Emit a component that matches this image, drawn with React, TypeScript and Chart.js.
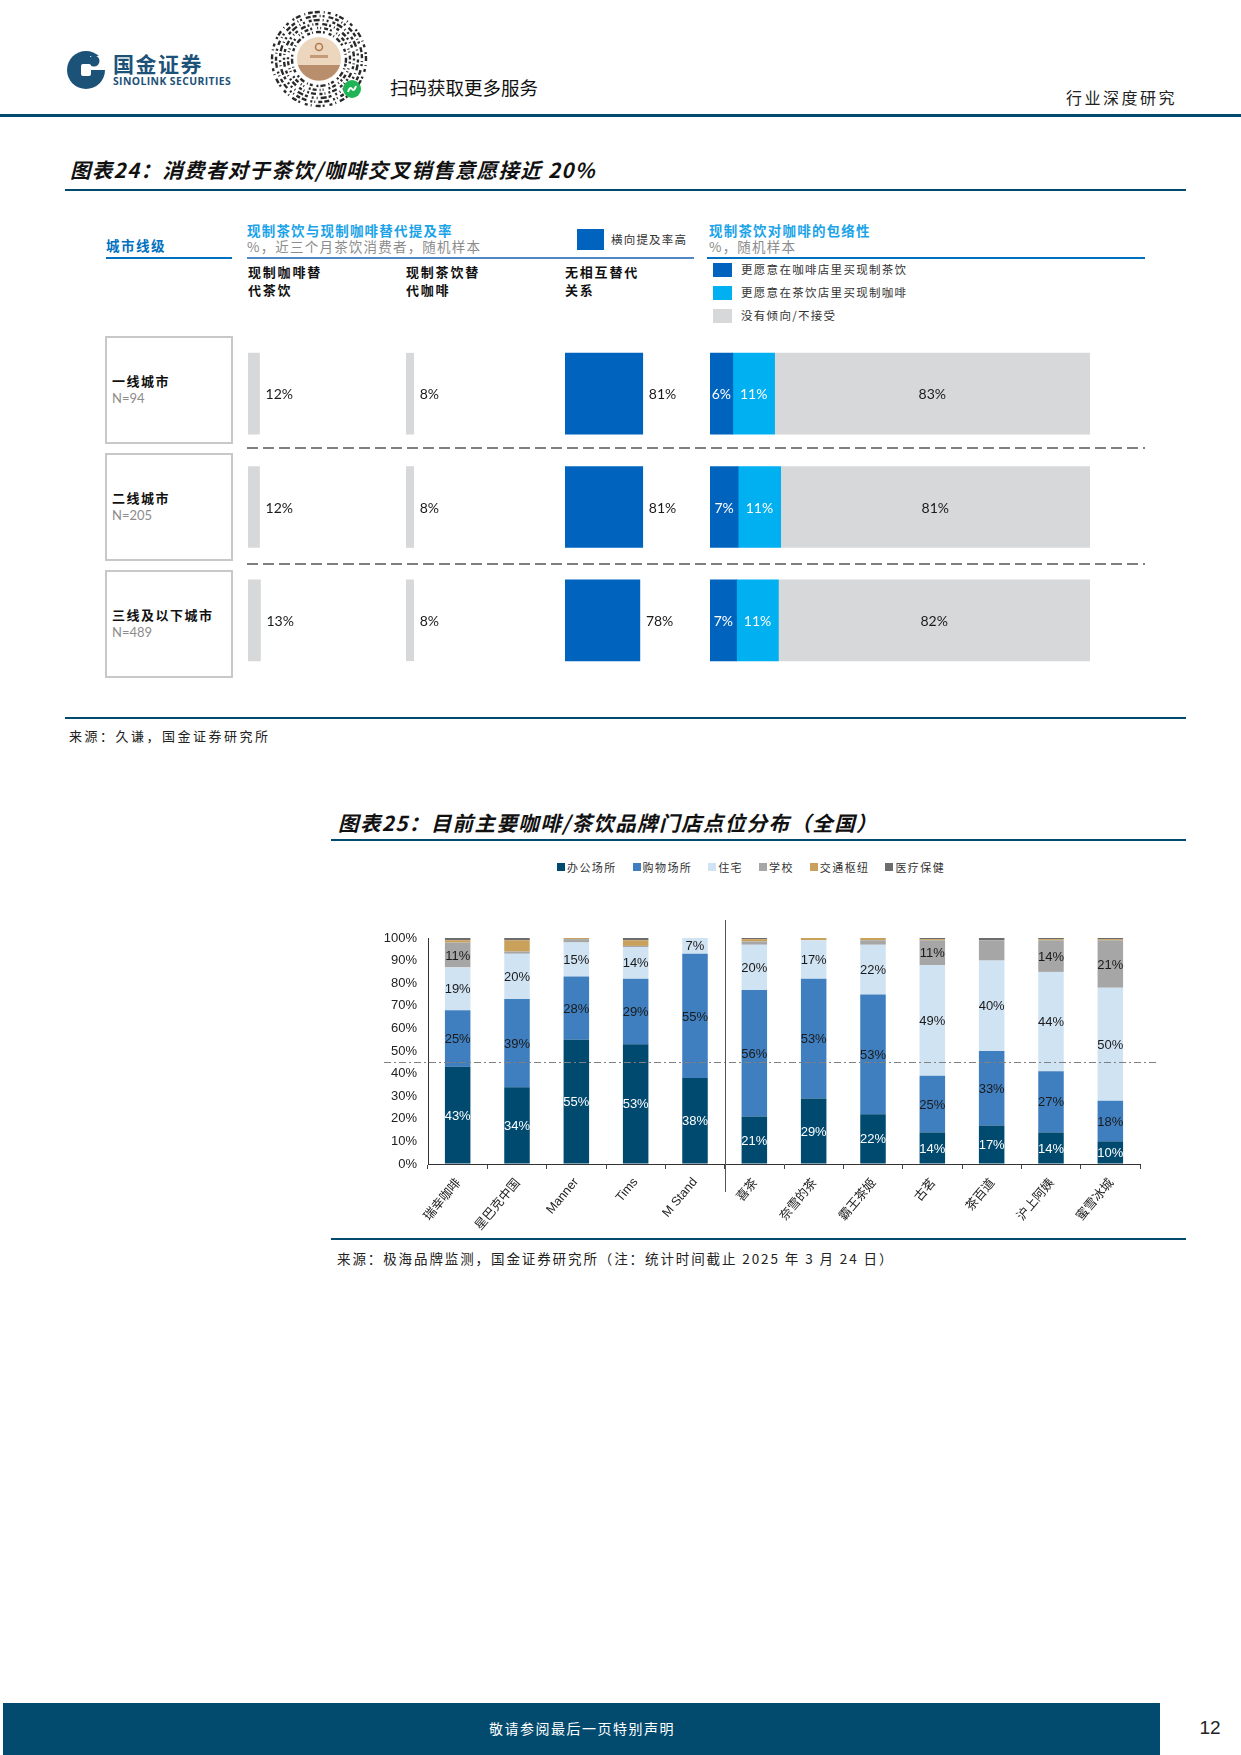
import React, { useEffect, useRef } from "react";
import { Chart, registerables } from "chart.js";

Chart.register(...registerables);

const CJK = '"Noto Sans CJK SC", "Noto Sans", sans-serif';
const LATO = 'Lato, "Noto Sans", sans-serif';
const ARIAL = '"Liberation Sans", Arial, sans-serif';
const NAVY = "#024a6e";

// ---------------- Figure 24 data ----------------
const cityTiers = ["一线城市", "二线城市", "三线及以下城市"];
const sampleSizes = ["N=94", "N=205", "N=489"];
const substitutionHeaders = [
  ["现制咖啡替", "代茶饮"],
  ["现制茶饮替", "代咖啡"],
  ["无相互替代", "关系"],
];
const coffeeReplacesTea = [12, 12, 13];
const teaReplacesCoffee = [8, 8, 8];
const noSubstitution = [81, 81, 78];
const inclusivityLegend = ["更愿意在咖啡店里买现制茶饮", "更愿意在茶饮店里买现制咖啡", "没有倾向/不接受"];
const teaAtCoffeeShop = [6, 7.4, 7];
const coffeeAtTeaShop = [11, 11.2, 11];
const noPreference = [83, 81.4, 82];

// ---------------- Figure 25 data ----------------
const brands = ["瑞幸咖啡", "星巴克中国", "Manner", "Tims", "M Stand", "喜茶", "奈雪的茶", "霸王茶姬", "古茗", "茶百道", "沪上阿姨", "蜜雪冰城"];
const locationTypes = ["办公场所", "购物场所", "住宅", "学校", "交通枢纽", "医疗保健"];
const officeShare = [43, 34, 55, 53, 38, 21, 29, 22, 14, 17, 14, 10];
const shoppingShare = [25, 39, 28, 29, 55, 56, 53, 53, 25, 33, 27, 18];
const residentialShare = [19, 20, 15, 14, 7, 20, 17, 22, 49, 40, 44, 50];
const schoolShare = [11, 1, 1.5, 0.5, 0, 1.5, 0, 2, 11, 9, 14, 21];
const transportShare = [1, 5, 0.5, 2.5, 0, 1, 1, 1, 0.5, 0, 0.5, 0.5];
const medicalShare = [1, 1, 0, 1, 0, 0.5, 0, 0, 0.5, 1, 0.5, 0.5];
const referenceShare = 45;
const teaGroupStartIndex = 5;
const yTickStep = 10;

// ---------------- styles ----------------
const DARK_BLUE = "#0063be";
const CYAN = "#00b0f0";
const LIGHT_GRAY = "#d7d8da";
const locationColors = ["#00496f", "#3f7fbf", "#d0e3f3", "#a6a6a6", "#c9a15b", "#6d6d6d"];
const labelThreshold = [5, 5, 5, 10, 1000, 1000];

const COL_W = 140;
const PX_PER_PCT = 0.96;
const ROWS_TOP = 337;
const ROWS_H = 340;

type TxtProps = {
  x: number; y: number; size: number; color?: string; weight?: number; family?: string;
  italic?: boolean; spacing?: number; children: React.ReactNode; center?: boolean;
};
const Txt = ({ x, y, size, color = "#222", weight = 400, family = CJK, italic = false, spacing = 0, children, center = false }: TxtProps) => (
  <div
    style={{
      position: "absolute", left: x, top: y - size * 0.6, fontSize: size, lineHeight: `${size * 1.2}px`,
      color, fontWeight: weight, fontFamily: family, fontStyle: italic ? "italic" : "normal",
      letterSpacing: spacing, whiteSpace: "nowrap", transform: center ? "translateX(-50%)" : undefined,
    }}
  >
    {children}
  </div>
);

const Rect = ({ x, y, w, h, color, style }: { x: number; y: number; w: number; h: number; color?: string; style?: React.CSSProperties }) => (
  <div style={{ position: "absolute", left: x, top: y, width: w, height: h, background: color, boxSizing: "border-box", ...style }} />
);

function ChartCanvas({ left, top, width, height, make }: { left: number; top: number; width: number; height: number; make: () => any }) {
  const ref = useRef<HTMLCanvasElement>(null);
  useEffect(() => {
    const chart = new Chart(ref.current as HTMLCanvasElement, make());
    return () => chart.destroy();
  }, []);
  return <canvas ref={ref} width={width} height={height} style={{ position: "absolute", left, top, width, height }} />;
}

// label after bar end
const endLabelPlugin = {
  id: "endLabel",
  afterDatasetsDraw(chart: any) {
    const ctx = chart.ctx;
    const meta = chart.getDatasetMeta(0);
    ctx.save();
    ctx.font = `14px ${LATO}`;
    ctx.fillStyle = "#1a1a1a";
    ctx.textBaseline = "middle";
    meta.data.forEach((bar: any, i: number) => {
      const p = bar.getProps(["x", "y"], true);
      ctx.fillText(`${Math.round(chart.data.datasets[0].data[i])}%`, p.x + 6, p.y + 1);
    });
    ctx.restore();
  },
};

const stackLabelPlugin = {
  id: "stackLabel",
  afterDatasetsDraw(chart: any) {
    const ctx = chart.ctx;
    ctx.save();
    ctx.font = `14px ${LATO}`;
    ctx.textAlign = "center";
    ctx.textBaseline = "middle";
    chart.data.datasets.forEach((ds: any, di: number) => {
      chart.getDatasetMeta(di).data.forEach((bar: any, i: number) => {
        const p = bar.getProps(["x", "y", "base"], true);
        ctx.fillStyle = di < 2 ? "#ffffff" : "#1a1a1a";
        ctx.fillText(`${Math.round(ds.data[i])}%`, (p.x + p.base) / 2, p.y + 1);
      });
    });
    ctx.restore();
  },
};

const columnConfig = (values: number[], color: string) => () => ({
  type: "bar",
  data: { labels: cityTiers, datasets: [{ data: values, backgroundColor: color, barThickness: 81, borderWidth: 0 }] },
  options: {
    indexAxis: "y", responsive: false, animation: false, events: [],
    layout: { padding: 0 },
    plugins: { legend: { display: false }, tooltip: { enabled: false } },
    scales: { x: { display: false, min: 0, max: COL_W / PX_PER_PCT }, y: { display: false } },
  },
  plugins: [endLabelPlugin],
});

const inclusivityConfig = () => ({
  type: "bar",
  data: {
    labels: cityTiers,
    datasets: [teaAtCoffeeShop, coffeeAtTeaShop, noPreference].map((d, i) => ({
      label: inclusivityLegend[i], data: d, backgroundColor: [DARK_BLUE, CYAN, LIGHT_GRAY][i], barThickness: 81, borderWidth: 0,
    })),
  },
  options: {
    indexAxis: "y", responsive: false, animation: false, events: [],
    layout: { padding: 0 },
    plugins: { legend: { display: false }, tooltip: { enabled: false } },
    scales: { x: { display: false, stacked: true, min: 0, max: 100 }, y: { display: false, stacked: true } },
  },
  plugins: [stackLabelPlugin],
});

const fig25Plugin = {
  id: "fig25",
  afterDatasetsDraw(chart: any) {
    const { ctx, chartArea, scales } = chart;
    ctx.save();
    // reference dash-dot line
    const yRef = scales.y.getPixelForValue(referenceShare);
    ctx.strokeStyle = "#808080";
    ctx.lineWidth = 1;
    ctx.setLineDash([7, 3, 2, 3]);
    ctx.beginPath();
    ctx.moveTo(chartArea.left - 44, Math.round(yRef) + 0.5);
    ctx.lineTo(chartArea.right + 17, Math.round(yRef) + 0.5);
    ctx.stroke();
    // group separator
    ctx.setLineDash([]);
    const xs = Math.round((scales.x.getPixelForValue(teaGroupStartIndex - 1) + scales.x.getPixelForValue(teaGroupStartIndex)) / 2) + 0.5;
    ctx.strokeStyle = "#555";
    ctx.beginPath();
    ctx.moveTo(xs, chartArea.top - 18);
    ctx.lineTo(xs, chartArea.bottom + 28);
    ctx.stroke();
    // value labels
    ctx.font = `13px ${ARIAL}`;
    ctx.textAlign = "center";
    ctx.textBaseline = "middle";
    chart.data.datasets.forEach((ds: any, di: number) => {
      chart.getDatasetMeta(di).data.forEach((bar: any, i: number) => {
        const v = ds.data[i];
        if (v < labelThreshold[di]) return;
        const p = bar.getProps(["x", "y", "base"], true);
        ctx.fillStyle = di === 0 ? "#ffffff" : "#1a1a1a";
        ctx.fillText(`${Math.round(v)}%`, p.x, (p.y + p.base) / 2 + 1);
      });
    });
    ctx.restore();
  },
};

const fig25Config = () => {
  const series = [officeShare, shoppingShare, residentialShare, schoolShare, transportShare, medicalShare];
  return {
    type: "bar",
    data: {
      labels: brands,
      datasets: series.map((data, i) => ({
        label: locationTypes[i], data, backgroundColor: locationColors[i],
        barPercentage: 0.43, categoryPercentage: 1, borderWidth: 0,
      })),
    },
    options: {
      responsive: false, animation: false, events: [],
      layout: { padding: { top: 23, right: 30, left: 0, bottom: 0 } },
      plugins: { legend: { display: false }, tooltip: { enabled: false } },
      scales: {
        x: {
          stacked: true,
          afterFit: (s: any) => { s.height = 71; },
          grid: { drawOnChartArea: false, drawTicks: true, tickLength: 5, color: "#444" },
          border: { color: "#333" },
          ticks: {
            autoSkip: false, maxRotation: 50, minRotation: 50, padding: 6, color: "#222",
            font: (c: any) => ({ family: /[A-Za-z]/.test(brands[c.index] || "") ? ARIAL : CJK, size: 12.5 }),
          },
        },
        y: {
          stacked: true, min: 0, max: 100,
          afterFit: (s: any) => { s.width = 88; },
          grid: { drawOnChartArea: false, drawTicks: false },
          border: { color: "#333" },
          ticks: { stepSize: yTickStep, padding: 11, color: "#222", font: { family: ARIAL, size: 13 }, callback: (v: any) => `${v}%` },
        },
      },
    },
    plugins: [fig25Plugin],
  };
};

function MiniCode() {
  const rings = [
    { r: 27, d: "3 2 1 3 5 2 2 4", rot: 10 },
    { r: 31, d: "1 3 4 2 2 5 1 2", rot: 50 },
    { r: 35, d: "5 2 2 3 1 2 3 4", rot: 95 },
    { r: 39, d: "2 4 3 2 6 3 1 3", rot: 140 },
    { r: 43, d: "4 3 1 2 2 4 5 2", rot: 200 },
    { r: 47, d: "2 2 5 4 1 3 3 5", rot: 260 },
  ];
  return (
    <svg style={{ position: "absolute", left: 266, top: 6 }} width={106} height={106}>
      <g transform="translate(53,53)">
        {rings.map((rg, i) => (
          <circle key={i} r={rg.r} fill="none" stroke="#2a2a2a" strokeWidth={2.4} strokeDasharray={rg.d} transform={`rotate(${rg.rot})`} />
        ))}
        <circle r={22} fill="#ecd6bd" />
        <path d="M -21 6 A 22 22 0 0 0 21 6 Z" fill="#b98e6c" />
        <circle cx={0} cy={-12} r={3.5} fill="none" stroke="#b07a4e" strokeWidth={1.5} />
        <rect x={-9} y={-4} width={18} height={3} fill="#c49a78" />
        <circle cx={33} cy={30} r={9} fill="#1fb456" />
        <path d="M 29 33 q 2 -6 4 -3 q 2 3 4 -3" stroke="#fff" strokeWidth={2} fill="none" />
      </g>
    </svg>
  );
}

function Logo() {
  return (
    <>
      <svg style={{ position: "absolute", left: 66, top: 50 }} width={40} height={40}>
        <circle cx={20} cy={20} r={19} fill="#1d5278" />
        <rect x={24} y={6} width={16} height={14} fill="#fff" />
        <circle cx={28} cy={11} r={5.5} fill="#1d5278" />
        <rect x={15} y={14} width={10} height={12} rx={2} fill="#fff" />
      </svg>
      <Txt x={113} y={64} size={21} weight={700} color="#1d5278" spacing={1.5}>国金证券</Txt>
      <Txt x={113} y={81} size={10.4} weight={700} color="#1d5278" spacing={0.4} family='"Open Sans", sans-serif'>SINOLINK SECURITIES</Txt>
    </>
  );
}

const rowBoxTops = [336, 453, 570];
const columnLefts = [248, 406, 565];

export default function App() {
  return (
    <div style={{ position: "absolute", left: 0, top: 0, width: 1241, height: 1755, background: "#fff", overflow: "hidden", fontFamily: CJK }}>
      {/* Header */}
      <Logo />
      <MiniCode />
      <Txt x={390} y={87} size={18.5} color="#111">扫码获取更多服务</Txt>
      <Txt x={1066} y={98} size={16} spacing={2.5} color="#222">行业深度研究</Txt>
      <Rect x={0} y={114} w={1241} h={3} color={NAVY} />

      {/* Figure 24 */}
      <Txt x={70} y={169} size={20.5} weight={700} italic spacing={1.3} color="#111">图表24：消费者对于茶饮/咖啡交叉销售意愿接近 20%</Txt>
      <Rect x={65} y={189} w={1121} h={2} color={NAVY} />

      <Txt x={106} y={245} size={13.5} weight={700} spacing={1.5} color="#0070c0">城市线级</Txt>
      <Rect x={106} y={257} w={126} h={2} color="#0070c0" />

      <Txt x={247} y={230} size={13.5} weight={700} spacing={1.2} color="#1aa3e8">现制茶饮与现制咖啡替代提及率</Txt>
      <Txt x={247} y={246.5} size={13.5} spacing={1.2} color="#8c8c8c">%，近三个月茶饮消费者，随机样本</Txt>
      <Rect x={247} y={257} w={447} h={2} color="#4f86c6" />
      <Rect x={577} y={229} w={27} h={21} color={DARK_BLUE} />
      <Txt x={611} y={240} size={11.5} spacing={1.2} color="#333">横向提及率高</Txt>

      <Txt x={709} y={230} size={13.5} weight={700} spacing={1.2} color="#1aa3e8">现制茶饮对咖啡的包络性</Txt>
      <Txt x={709} y={246.5} size={13.5} spacing={1.2} color="#8c8c8c">%，随机样本</Txt>
      <Rect x={707} y={257} w={438} h={2} color="#0070c0" />
      {inclusivityLegend.map((t, i) => (
        <React.Fragment key={t}>
          <Rect x={713} y={263 + i * 23} w={19} h={14} color={[DARK_BLUE, CYAN, LIGHT_GRAY][i]} />
          <Txt x={741} y={270 + i * 23} size={11.5} spacing={1.3} color="#333">{t}</Txt>
        </React.Fragment>
      ))}

      {substitutionHeaders.map((lines, i) => (
        <React.Fragment key={i}>
          <Txt x={columnLefts[i]} y={272} size={13} weight={700} spacing={1.8} color="#111">{lines[0]}</Txt>
          <Txt x={columnLefts[i]} y={290} size={13} weight={700} spacing={1.8} color="#111">{lines[1]}</Txt>
        </React.Fragment>
      ))}

      {cityTiers.map((c, i) => (
        <React.Fragment key={c}>
          <Rect x={105} y={rowBoxTops[i]} w={128} h={108} style={{ border: "2px solid #c8c8c8" }} />
          <Txt x={112} y={rowBoxTops[i] + 45} size={13} weight={700} spacing={1.5} color="#111">{c}</Txt>
          <Txt x={112} y={rowBoxTops[i] + 63} size={13} family={LATO} color="#8c8c8c">{sampleSizes[i]}</Txt>
        </React.Fragment>
      ))}

      <svg style={{ position: "absolute", left: 0, top: 0 }} width={1241} height={700}>
        {[448, 564].map((y) => (
          <line key={y} x1={247} x2={1145} y1={y} y2={y} stroke="#7f7f7f" strokeWidth={2} strokeDasharray="11 5" />
        ))}
      </svg>

      <ChartCanvas left={columnLefts[0]} top={ROWS_TOP} width={COL_W} height={ROWS_H} make={columnConfig(coffeeReplacesTea, LIGHT_GRAY)} />
      <ChartCanvas left={columnLefts[1]} top={ROWS_TOP} width={COL_W} height={ROWS_H} make={columnConfig(teaReplacesCoffee, LIGHT_GRAY)} />
      <ChartCanvas left={columnLefts[2]} top={ROWS_TOP} width={COL_W} height={ROWS_H} make={columnConfig(noSubstitution, DARK_BLUE)} />
      <ChartCanvas left={710} top={ROWS_TOP} width={380} height={ROWS_H} make={inclusivityConfig} />

      <Rect x={65} y={717} w={1121} h={2} color={NAVY} />
      <Txt x={69} y={736} size={13} spacing={2.5} color="#222">来源：久谦，国金证券研究所</Txt>

      {/* Figure 25 */}
      <Txt x={338} y={822} size={20.5} weight={700} italic spacing={1.4} color="#111">图表25：目前主要咖啡/茶饮品牌门店点位分布（全国）</Txt>
      <Rect x={331} y={839} w={855} h={2} color={NAVY} />

      <div style={{ position: "absolute", left: 557, top: 859, display: "flex", gap: 16, alignItems: "center", whiteSpace: "nowrap" }}>
        {locationTypes.map((t, i) => (
          <div key={t} style={{ display: "flex", alignItems: "center", gap: 2 }}>
            <div style={{ width: 8, height: 8, background: locationColors[i] }} />
            <span style={{ fontSize: 11, letterSpacing: 1.4, color: "#333", fontFamily: CJK, lineHeight: "16px" }}>{t}</span>
          </div>
        ))}
      </div>

      <ChartCanvas left={340} top={915} width={830} height={320} make={fig25Config} />

      <Rect x={331} y={1238} w={855} h={2} color={NAVY} />
      <Txt x={337} y={1258} size={13.5} spacing={1.9} color="#222">来源：极海品牌监测，国金证券研究所（注：统计时间截止 2025 年 3 月 24 日）</Txt>

      {/* Footer */}
      <Rect x={3} y={1703} w={1157} h={52} color={NAVY} />
      <Txt x={582} y={1728} size={14} spacing={1.5} color="#ffffff" center>敬请参阅最后一页特别声明</Txt>
      <Txt x={1210} y={1728} size={19} family='"Liberation Sans Narrow", "Liberation Sans", sans-serif' color="#222" center>12</Txt>
    </div>
  );
}
